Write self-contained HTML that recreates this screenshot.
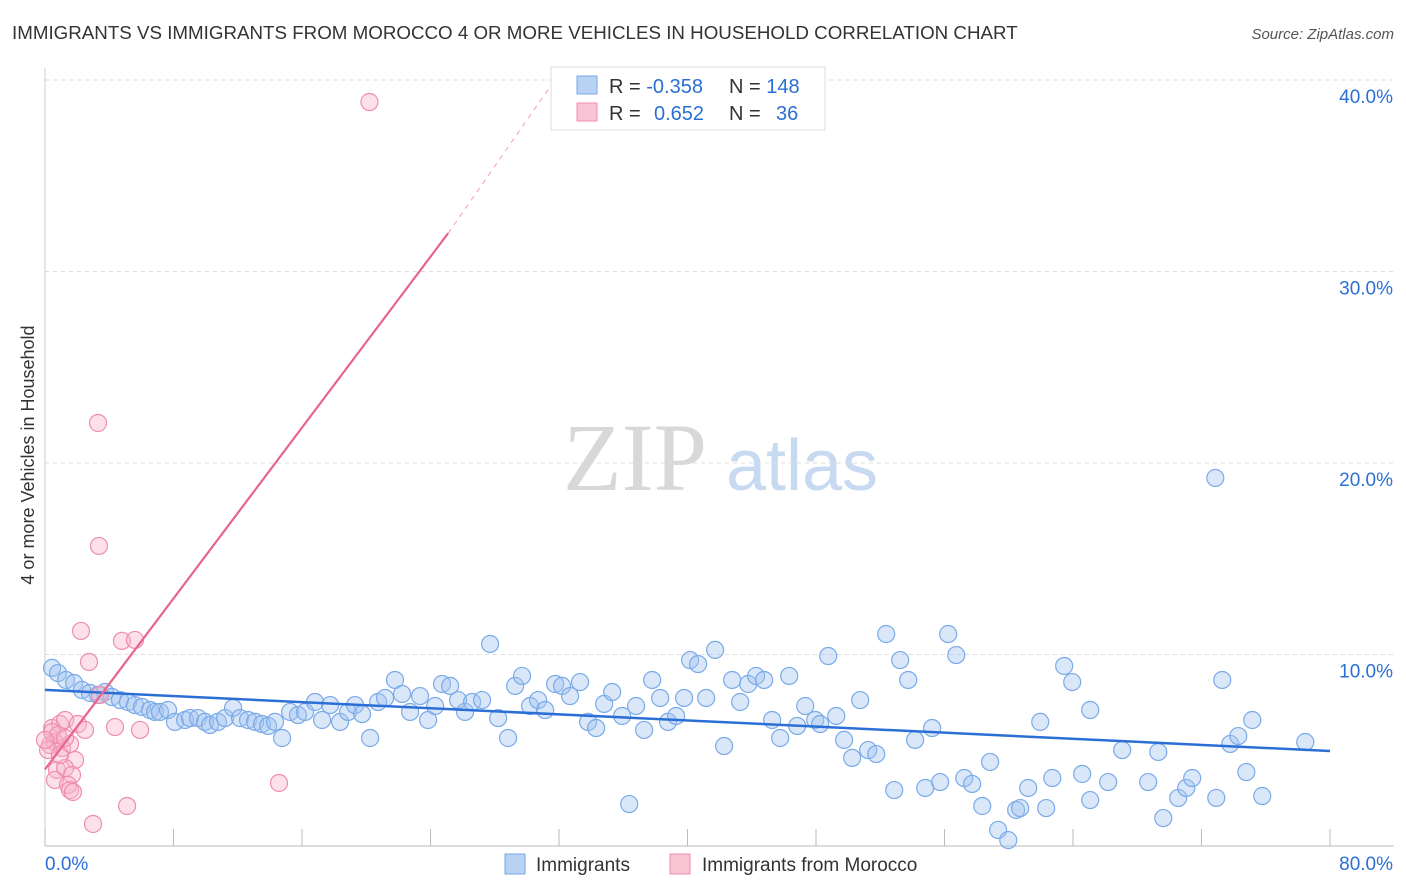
<!DOCTYPE html>
<html><head><meta charset="utf-8"><style>
body{margin:0;background:#fff;font-family:"Liberation Sans",sans-serif;}
#wrap{position:relative;width:1406px;height:892px;overflow:hidden;}
</style></head><body>
<div id="wrap">
<svg id="svg" width="1406" height="892" xmlns="http://www.w3.org/2000/svg">
<text x="12" y="39" font-size="18.75" fill="#333">IMMIGRANTS VS IMMIGRANTS FROM MOROCCO 4 OR MORE VEHICLES IN HOUSEHOLD CORRELATION CHART</text>
<text x="1394" y="39" font-size="15" fill="#555" font-style="italic" text-anchor="end">Source: ZipAtlas.com</text>
<text x="34" y="455" font-size="18" fill="#333" text-anchor="middle" transform="rotate(-90 34 455)">4 or more Vehicles in Household</text>
<g>
<text x="635" y="490" font-size="96" fill="#d8d8d8" font-family="Liberation Serif,serif" text-anchor="middle">ZIP</text>
<text x="802" y="490" font-size="72" fill="#c8daf2" text-anchor="middle">atlas</text>
</g>
<g id="grid"></g><g id="pts"></g><g id="trend"></g>
<g>
<rect x="551" y="67" width="274" height="63" fill="#fff" stroke="#ddd"/>
<rect x="577" y="76" width="20" height="18" fill="#b8d2f4" stroke="#7aaae8"/>
<rect x="577" y="103" width="20" height="18" fill="#f9c4d4" stroke="#f08cb0"/>
<text x="609" y="93" font-size="20" fill="#333">R = <tspan fill="#2b6fd6">-0.358</tspan></text>
<text x="729" y="93" font-size="20" fill="#333">N = <tspan fill="#2b6fd6">148</tspan></text>
<text x="609" y="120" font-size="20" fill="#333">R = </text><text x="654" y="120" font-size="20" fill="#2b6fd6">0.652</text>
<text x="729" y="120" font-size="20" fill="#333">N = </text><text x="776" y="120" font-size="20" fill="#2b6fd6">36</text>
</g>
<g>
<rect x="505" y="854" width="20" height="20" fill="#b8d2f4" stroke="#7aaae8"/>
<text x="536" y="871" font-size="19" fill="#333">Immigrants</text>
<rect x="670" y="854" width="20" height="20" fill="#f9c4d4" stroke="#f08cb0"/>
<text x="702" y="871" font-size="19" fill="#333">Immigrants from Morocco</text>
</g>
</svg>
</div>
<script>
const blueX=[0.44,0.81,1.31,1.81,2.3,2.8,3.3,3.74,4.17,4.67,5.17,5.6,6.04,6.54,6.85,7.16,7.66,8.09,8.72,9.03,9.53,9.96,10.27,10.77,11.21,11.71,12.14,12.64,13.08,13.51,13.89,14.32,14.76,15.26,15.75,16.19,16.81,17.25,17.75,18.37,18.87,19.3,19.74,20.24,20.74,21.17,21.79,22.23,22.73,23.35,23.85,24.29,24.72,25.22,25.72,26.15,26.59,27.21,27.71,28.21,28.83,29.27,29.7,30.2,30.7,31.14,31.76,32.19,32.69,33.31,33.81,34.31,34.81,35.31,35.93,36.37,36.8,37.3,37.8,38.3,38.79,39.29,39.79,40.16,40.66,41.16,41.72,42.28,42.78,43.28,43.78,44.27,44.77,45.27,45.77,46.33,46.83,47.33,47.95,48.26,48.76,49.26,49.75,50.25,50.75,51.25,51.75,52.37,52.87,53.24,53.74,54.17,54.8,55.23,55.73,56.23,56.73,57.23,57.72,58.35,58.84,59.34,59.97,60.46,60.71,61.21,61.96,62.33,62.71,63.45,63.95,64.57,65.07,65.07,66.19,67.06,68.68,69.31,69.62,70.55,71.05,71.42,72.86,72.92,73.29,73.79,74.29,74.79,75.16,75.78,78.46];
const blueY=[9.3,9.03,8.67,8.51,8.15,7.99,7.89,8.04,7.78,7.62,7.52,7.36,7.26,7.1,7,7,7.1,6.48,6.58,6.68,6.68,6.48,6.32,6.48,6.68,7.21,6.68,6.58,6.48,6.37,6.27,6.48,5.64,7,6.84,7,7.52,6.58,7.36,6.48,7,7.36,6.89,5.64,7.52,7.73,8.67,7.94,7,7.83,6.58,7.31,8.46,8.36,7.62,7,7.52,7.62,10.55,6.68,5.64,8.36,8.88,7.31,7.62,7.1,8.46,8.36,7.83,8.56,6.48,6.16,7.42,8.04,6.79,2.19,7.31,6.06,8.67,7.73,6.48,6.79,7.73,9.71,9.5,7.73,10.24,5.22,8.67,7.52,8.46,8.88,8.67,6.58,5.64,8.88,6.27,7.31,6.58,6.37,9.92,6.79,5.54,4.6,7.62,5.01,4.8,11.07,2.92,9.71,8.67,5.54,3.03,6.16,3.34,11.07,9.97,3.55,3.24,2.09,4.39,0.84,0.31,1.88,1.98,3.03,6.48,1.98,3.55,9.4,8.56,3.76,2.4,7.1,3.34,5.01,3.34,4.91,1.46,2.51,3.03,3.55,19.22,2.51,8.67,5.33,5.74,3.86,6.58,2.61,5.43];
const pinkX=[20.2,3.3,3.36,2.24,4.79,5.6,2.74,0.44,0.93,1.25,2.05,2.49,4.36,5.92,0.31,0.62,1.06,1.56,1.87,0.75,1.25,1.68,0.62,1.43,1.56,1.74,5.11,2.99,14.57,0.19,0.44,0.81,0,0.93,3.42,1.25];
const pinkY=[38.85,22.09,15.67,11.23,10.71,10.76,9.61,6.16,6.37,6.58,6.37,6.06,6.21,6.06,5.27,5.43,5.12,5.33,4.49,3.97,4.07,3.71,3.45,3.19,2.92,2.82,2.09,1.15,3.29,5.01,5.95,5.8,5.54,4.75,7.89,5.64];
const xTicks=[0,8,16,24,32,40,48,56,64,72,80];
const yTicks=[10,20,30,40];
const yTickLabels=["10.0%","20.0%","30.0%","40.0%"];
const blueTrend=[[0,8.15],[80,4.96]];
const pinkTrendSolid=[[0,4.0],[25.1,32.0]];
const pinkTrendDash=[[25.1,32.0],[31.9,40.2]];
const NS="http://www.w3.org/2000/svg";
const X=v=>45+v*16.0625, Y=v=>846-v*19.15;
function mk(tag,attrs,parent){const e=document.createElementNS(NS,tag);for(const k in attrs)e.setAttribute(k,attrs[k]);parent.appendChild(e);return e;}
const grid=document.getElementById('grid'),pts=document.getElementById('pts'),tr=document.getElementById('trend'),svg=document.getElementById('svg');
yTicks.forEach((t,i)=>{
 const l=mk('line',{x1:45,x2:1394,y1:Y(t),y2:Y(t),stroke:'#ddd','stroke-dasharray':'4,4'},grid);
 
 
 const tx=mk('text',{x:1393,y:Y(t)+23,'font-size':19,fill:'#2b6fd6','text-anchor':'end'},svg);
 tx.textContent=yTickLabels[i];
 
 
});
const ax=mk('line',{x1:45,x2:1394,y1:846,y2:846,stroke:'#bbb'},grid);


const yax=mk('line',{x1:45,x2:45,y1:68,y2:846,stroke:'#ccc'},grid);


xTicks.forEach(t=>{
 const l=mk('line',{x1:X(t),x2:X(t),y1:829,y2:846,stroke:'#bbb'},grid);
 
 
});
[[0,"0.0%","start",45],[80,"80.0%","end",1393]].forEach(a=>{
 const t=mk('text',{x:a[3],y:870,'font-size':19,fill:'#2b6fd6','text-anchor':a[2]},svg);
 t.textContent=a[1];
 
 
});
blueX.forEach((v,i)=>{
 const c=mk('circle',{cx:X(v),cy:Y(blueY[i]),r:8.5,fill:'rgba(160,196,240,0.4)',stroke:'#7aaae8','stroke-width':1.2},pts);
 
 
});
pinkX.forEach((v,i)=>{
 const c=mk('circle',{cx:X(v),cy:Y(pinkY[i]),r:8.5,fill:'rgba(248,180,200,0.4)',stroke:'#f08cb0','stroke-width':1.2},pts);
 
 
});
const bl=mk('line',{x1:X(blueTrend[0][0]),y1:Y(blueTrend[0][1]),x2:X(blueTrend[1][0]),y2:Y(blueTrend[1][1]),stroke:'#2b6fd6','stroke-width':2.5},tr);


const pl=mk('line',{x1:X(pinkTrendSolid[0][0]),y1:Y(pinkTrendSolid[0][1]),x2:X(pinkTrendSolid[1][0]),y2:Y(pinkTrendSolid[1][1]),stroke:'#e8648c','stroke-width':2.2},tr);


const pd=mk('line',{x1:X(pinkTrendDash[0][0]),y1:Y(pinkTrendDash[0][1]),x2:X(pinkTrendDash[1][0]),y2:Y(pinkTrendDash[1][1]),stroke:'#f0a0b8','stroke-width':1,'stroke-dasharray':'5,5'},tr);


</script>
</body></html>
